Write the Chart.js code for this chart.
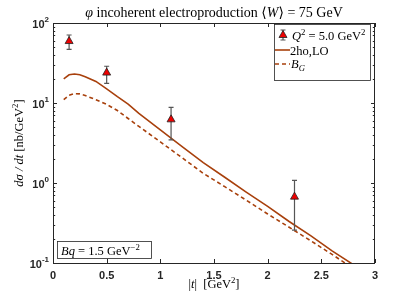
<!DOCTYPE html>
<html lang="en">

<head>
    <meta charset="UTF-8">
    <title>phi incoherent electroproduction</title>
    <script src="https://cdn.jsdelivr.net/npm/chart.js"></script>
    <style>
        html, body { margin: 0; padding: 0; background: #fff; }
        .grafica { width: 415px; height: 298px; }
    </style>
</head>

<body>
    <div class="grafica">
        <canvas id="myChart"></canvas>
    </div>
    <script>
        // measured points (Q^2 = 5.0 GeV^2)
        const dataT = [0.15, 0.50, 1.10, 2.25];
        const dataY = [59.5, 24.0, 6.25, 0.675];
        const dataHi = [70.8, 28.8, 8.8, 1.08];
        const dataLo = [46.9, 17.6, 3.45, 0.258];

        // model curves
        const curveT = [0.1, 0.15, 0.2, 0.25, 0.3, 0.4, 0.5, 0.6, 0.7, 0.8, 1.0, 1.2, 1.4, 1.6, 1.8, 2.0, 2.2, 2.4, 2.6, 2.8];
        const lo2ho = [20.0, 22.5, 23.0, 22.6, 21.3, 18.6, 15.0, 12.0, 9.7, 7.4, 4.6, 2.87, 1.8, 1.18, 0.77, 0.51, 0.33, 0.22, 0.142, 0.095];
        const bG = [11.0, 12.5, 13.1, 13.0, 12.4, 11.0, 9.6, 8.05, 6.4, 5.1, 3.27, 2.08, 1.32, 0.90, 0.61, 0.41, 0.28, 0.19, 0.128, 0.085];

        const xTicks = [0, 0.5, 1, 1.5, 2, 2.5, 3];
        const yDecades = [2, 1, 0, -1];

        const lineColor = "#a8400c";
        const serif = "'Liberation Serif', 'DejaVu Serif', serif";
        const sans = "'Liberation Sans', Arial, sans-serif";

        // draw a list of text runs: {t, it, sup, sub}
        function richWidth(ctx, runs, size) {
            let w = 0;
            runs.forEach(r => {
                const s = (r.sup || r.sub) ? size * 0.7 : size;
                ctx.font = (r.it ? "italic " : "") + s + "px " + serif;
                w += ctx.measureText(r.t).width;
            });
            return w;
        }
        function richText(ctx, runs, x, y, size) {
            ctx.textBaseline = "alphabetic";
            ctx.textAlign = "left";
            runs.forEach(r => {
                const s = (r.sup || r.sub) ? size * 0.7 : size;
                ctx.font = (r.it ? "italic " : "") + s + "px " + serif;
                let dy = 0;
                if (r.sup) dy = -size * 0.4;
                if (r.sub) dy = size * 0.25;
                ctx.fillText(r.t, x, y + dy);
                x += ctx.measureText(r.t).width;
            });
            return x;
        }

        function triangle(ctx, x, y) {
            ctx.beginPath();
            ctx.moveTo(x, y - 4.5);
            ctx.lineTo(x + 4, y + 2.5);
            ctx.lineTo(x - 4, y + 2.5);
            ctx.closePath();
            ctx.fillStyle = "#ee0000";
            ctx.fill();
            ctx.strokeStyle = "#222";
            ctx.lineWidth = 0.8;
            ctx.stroke();
        }

        function errBar(ctx, x, y1, y2) {
            ctx.strokeStyle = "#555";
            ctx.lineWidth = 1.2;
            ctx.beginPath();
            ctx.moveTo(x, y1); ctx.lineTo(x, y2);
            ctx.moveTo(x - 2.5, y1); ctx.lineTo(x + 2.5, y1);
            ctx.moveTo(x - 2.5, y2); ctx.lineTo(x + 2.5, y2);
            ctx.stroke();
        }

        const decorations = {
            id: "decorations",
            afterDatasetsDraw(chart) {
                const ctx = chart.ctx;
                const xs = chart.scales.x, ys = chart.scales.y;
                const a = chart.chartArea;
                ctx.save();

                // error bars and triangles
                ctx.beginPath();
                ctx.rect(a.left, a.top, a.right - a.left, a.bottom - a.top);
                ctx.clip();
                dataT.forEach((t, i) => {
                    const px = xs.getPixelForValue(t);
                    errBar(ctx, px, ys.getPixelForValue(dataHi[i]), ys.getPixelForValue(dataLo[i]));
                    triangle(ctx, px, ys.getPixelForValue(dataY[i]));
                });
                ctx.restore();
                ctx.save();

                // axes box
                ctx.strokeStyle = "#262626";
                ctx.lineWidth = 1;
                ctx.strokeRect(a.left + 0.5, a.top + 0.5, a.right - a.left - 1, a.bottom - a.top);

                // x ticks and labels
                ctx.beginPath();
                xTicks.forEach(t => {
                    const px = Math.round(xs.getPixelForValue(t)) + 0.5;
                    ctx.moveTo(px, a.bottom); ctx.lineTo(px, a.bottom - 4);
                    ctx.moveTo(px, a.top); ctx.lineTo(px, a.top + 4);
                });
                // y ticks, major and minor
                yDecades.forEach(d => {
                    for (let m = 1; m <= 9; m++) {
                        const v = m * Math.pow(10, d);
                        if (v > 100 || v < 0.1) continue;
                        const py = Math.round(ys.getPixelForValue(v)) + 0.5;
                        const len = m === 1 ? 4 : 2.2;
                        ctx.moveTo(a.left, py); ctx.lineTo(a.left + len, py);
                        ctx.moveTo(a.right, py); ctx.lineTo(a.right - len, py);
                    }
                });
                ctx.stroke();

                ctx.fillStyle = "#262626";
                ctx.font = "bold 11px " + sans;
                ctx.textAlign = "center";
                ctx.textBaseline = "alphabetic";
                xTicks.forEach(t => {
                    ctx.fillText(String(t), xs.getPixelForValue(t), a.bottom + 16);
                });

                // y tick labels 10^n
                yDecades.forEach(d => {
                    const py = ys.getPixelForValue(Math.pow(10, d));
                    ctx.textBaseline = "middle";
                    ctx.textAlign = "left";
                    const e = String(d);
                    ctx.font = "bold 8px " + sans;
                    const ew = ctx.measureText(e).width;
                    ctx.font = "bold 11px " + sans;
                    const bw = ctx.measureText("10").width;
                    const x0 = a.left - 4 - ew - bw;
                    ctx.fillText("10", x0, py + 2);
                    ctx.font = "bold 8px " + sans;
                    ctx.fillText(e, x0 + bw, py - 3);
                });

                // title
                ctx.fillStyle = "#000";
                const title = [
                    { t: "\u03C6", it: true }, { t: " incoherent electroproduction \u27E8" },
                    { t: "W", it: true }, { t: "\u27E9 = 75 GeV" }
                ];
                const tw = richWidth(ctx, title, 14);
                richText(ctx, title, (a.left + a.right) / 2 - tw / 2, 16.5, 14);

                // x axis title
                const xt = [{ t: "|" }, { t: "t", it: true }, { t: "|  [GeV" }, { t: "2", sup: true }, { t: "]" }];
                const xw = richWidth(ctx, xt, 12.5);
                richText(ctx, xt, (a.left + a.right) / 2 - xw / 2, 288, 12.5);

                // y axis title
                const yt = [{ t: "d\u03C3 / dt", it: true }, { t: " [nb/GeV" }, { t: "2", sup: true }, { t: "]" }];
                const yw = richWidth(ctx, yt, 12.5);
                ctx.save();
                ctx.translate(23, (a.top + a.bottom) / 2);
                ctx.rotate(-Math.PI / 2);
                richText(ctx, yt, -yw / 2, 0, 12.5);
                ctx.restore();

                // legend box
                const lx = 274, ly = 24, lw = 96, lh = 56;
                ctx.fillStyle = "#fff";
                ctx.fillRect(lx, ly, lw, lh);
                ctx.strokeStyle = "#262626";
                ctx.lineWidth = 0.8;
                ctx.strokeRect(lx + 0.5, ly + 0.5, lw, lh);
                errBar(ctx, 283, 30, 40);
                triangle(ctx, 283, 35);
                ctx.fillStyle = "#000";
                richText(ctx, [{ t: "Q", it: true }, { t: "2", sup: true }, { t: " = 5.0 GeV" }, { t: "2", sup: true }], 292, 39.5, 12.5);
                ctx.strokeStyle = lineColor;
                ctx.lineWidth = 1.6;
                ctx.beginPath();
                ctx.moveTo(275, 50); ctx.lineTo(290, 50);
                ctx.stroke();
                ctx.setLineDash([4, 3]);
                ctx.beginPath();
                ctx.moveTo(275, 64); ctx.lineTo(290, 64);
                ctx.stroke();
                ctx.setLineDash([]);
                richText(ctx, [{ t: "2ho,LO" }], 290, 54.5, 12.5);
                richText(ctx, [{ t: "B", it: true }, { t: "G", it: true, sub: true }], 291, 68, 12.5);

                // Bq annotation box
                ctx.fillStyle = "#fff";
                ctx.fillRect(57, 241, 94, 17);
                ctx.strokeStyle = "#262626";
                ctx.lineWidth = 0.8;
                ctx.strokeRect(57.5, 241.5, 94, 17);
                ctx.fillStyle = "#000";
                richText(ctx, [{ t: "Bq", it: true }, { t: " = 1.5 GeV" }, { t: "\u22122", sup: true }], 61, 254.5, 12.5);

                ctx.restore();
            }
        };

        const config = {
            type: "line",
            data: {
                datasets: [
                    {
                        label: "2ho,LO",
                        data: curveT.map((t, i) => ({ x: t, y: lo2ho[i] })),
                        borderColor: lineColor,
                        borderWidth: 1.6,
                        pointRadius: 0,
                        tension: 0
                    },
                    {
                        label: "B_G",
                        data: curveT.map((t, i) => ({ x: t, y: bG[i] })),
                        borderColor: lineColor,
                        borderWidth: 1.6,
                        borderDash: [4, 3],
                        pointRadius: 0,
                        tension: 0
                    }
                ]
            },
            options: {
                responsive: false,
                animation: false,
                maintainAspectRatio: false,
                layout: { padding: { left: 0, right: 40, top: 23, bottom: 0 } },
                plugins: { legend: { display: false }, tooltip: { enabled: false } },
                scales: {
                    x: {
                        type: "linear",
                        min: 0,
                        max: 3,
                        grid: { display: false },
                        border: { display: false },
                        ticks: { display: false, stepSize: 0.5 },
                        afterFit: s => { s.height = 35; }
                    },
                    y: {
                        type: "logarithmic",
                        min: 0.1,
                        max: 100,
                        grid: { display: false },
                        border: { display: false },
                        ticks: { display: false },
                        afterFit: s => { s.width = 53; }
                    }
                }
            },
            plugins: [decorations]
        };

        const myChart = document.getElementById("myChart");
        myChart.width = 415;
        myChart.height = 298;
        new Chart(myChart, config);
    </script>
</body>

</html>
